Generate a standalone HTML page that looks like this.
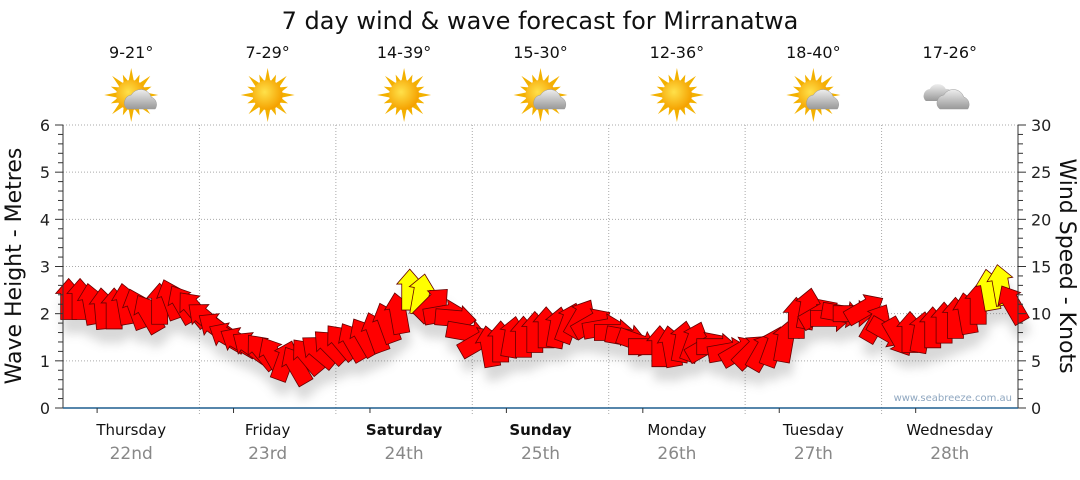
<!DOCTYPE html>
<html><head><meta charset="utf-8"><style>
body{margin:0;background:#fff;width:1080px;height:475px;overflow:hidden;font-family:"Liberation Sans",sans-serif}
svg text{font-family:"DejaVu Sans","Liberation Sans",sans-serif}
</style></head><body>
<svg id="c" width="1080" height="475">
<defs>
<radialGradient id="sunG" cx="0.4" cy="0.4" r="0.6"><stop offset="0" stop-color="#ffe14a"/><stop offset="1" stop-color="#f5a200"/></radialGradient>
<linearGradient id="cloudG" x1="0" y1="0" x2="0" y2="1"><stop offset="0" stop-color="#eee"/><stop offset="1" stop-color="#999"/></linearGradient>
<filter id="sh" x="-50%" y="-50%" width="200%" height="200%"><feGaussianBlur stdDeviation="5"/></filter>
</defs>
<text x="540" y="29" text-anchor="middle" font-size="24" fill="#111">7 day wind &amp; wave forecast for Mirranatwa</text>
<g id="grid"></g><g id="shadow" filter="url(#sh)" opacity="0.25"></g><g id="arrows"></g><g id="axes"></g><g id="hdr"></g>
</svg>
<script>
const days=["Thursday","Friday","Saturday","Sunday","Monday","Tuesday","Wednesday"];
const dates=["22nd","23rd","24th","25th","26th","27th","28th"];
const temps=["9-21°","7-29°","14-39°","15-30°","12-36°","18-40°","17-26°"];
const weather=["partly","sun","sun","partly","sun","partly","cloud"];
const waveTicks=[0,1,2,3,4,5,6];
const windTicks=[0,5,10,15,20,25,30];
const windSpeed=[11.5,11.5,11,10.5,10.5,11,10.5,10,11,11.5,11,10.5,
9.5,8.5,7.5,7,6.5,6,5.5,5,4.5,5.5,6,6.5,
7,7,7.5,8,9,10,12.5,12,11,10,9.5,8,
7,6.5,7,7.5,7.5,8,8.5,8.5,9,9.5,9,8.5,
8,7.5,7,6.5,6.5,6.5,7,7,6.5,6.5,6,6,
6,6,6.5,7,9.5,10.5,10,9.5,10,10,10.5,9,
8,7.5,8,8,8.5,9,9.5,10,11,12.5,13,11];
const windDir=[0,0,-10,-5,0,-10,-20,-30,0,-20,-30,-40,
-50,-55,-60,-60,-55,-40,-30,20,-30,-40,-50,-45,
-40,-30,-30,-20,-20,-10,0,10,45,80,95,100,
60,-10,0,10,0,0,0,10,20,30,60,80,
90,100,110,90,0,-10,10,20,60,90,80,60,
45,30,20,10,0,10,60,90,100,90,60,30,
120,150,0,10,0,0,0,-10,0,-10,-10,-30];
const NS="http://www.w3.org/2000/svg";
const X0=63,X1=1018,Y0=408,Y6=125;
const dayW=(X1-X0)/7;
const yWave=v=>Y0-(Y0-Y6)*v/6;
const yWind=v=>Y0-(Y0-Y6)*v/30;
const xT=i=>X0+(i+0.5)*(X1-X0)/windSpeed.length;
function el(t,a,p){const e=document.createElementNS(NS,t);for(const k in a)e.setAttribute(k,a[k]);p.appendChild(e);return e;}
const grid=document.getElementById('grid'),axes=document.getElementById('axes'),hdr=document.getElementById('hdr');
waveTicks.forEach(v=>{if(v>0){const g=el('line',{x1:X0,x2:X1,y1:yWave(v),y2:yWave(v),stroke:'#aaa','stroke-dasharray':'1,2'},grid);

}
const t=el('text',{x:50,y:yWave(v)+6,'text-anchor':'end','font-size':16,fill:'#222'},axes);t.textContent=v;

});
windTicks.forEach(v=>{const t=el('text',{x:1031,y:yWind(v)+6,'font-size':16,fill:'#222'},axes);t.textContent=v;

});
for(let k=0;k<=30;k++){const y=yWave(k*0.2);const L=k%5==0?8:5;
el('line',{x1:X0-L,x2:X0,y1:y,y2:y,stroke:'#333'},axes);el('line',{x1:X1,x2:X1+L,y1:y,y2:y,stroke:'#333'},axes);}
el('line',{x1:X0,x2:X0,y1:Y6,y2:Y0,stroke:'#333'},axes);el('line',{x1:X1,x2:X1,y1:Y6,y2:Y0,stroke:'#333'},axes);
el('line',{x1:X0,x2:X1,y1:Y0,y2:Y0,stroke:'#1f5f8f','stroke-width':1.5},axes);
for(let d=0;d<7;d++){const x=X0+d*dayW,cx=x+dayW/2;
if(d>0){const g=el('line',{x1:x,x2:x,y1:Y6,y2:Y0+8,stroke:'#aaa','stroke-dasharray':'1,2'},grid);

}
el('line',{x1:x+dayW/4,x2:x+dayW/4,y1:Y0,y2:Y0+5,stroke:'#333'},axes);
const bold=d==2||d==3;
const t=el('text',{x:cx,y:435,'text-anchor':'middle','font-size':15,fill:'#111','font-weight':bold?'bold':'normal'},axes);t.textContent=days[d];


const t2=el('text',{x:cx,y:459,'text-anchor':'middle','font-size':17,fill:'#888'},axes);t2.textContent=dates[d];


const t3=el('text',{x:cx,y:58,'text-anchor':'middle','font-size':16,fill:'#111'},hdr);t3.textContent=temps[d];


const g=el('g',{transform:`translate(${cx},95)`},hdr);


const w=weather[d];
if(w!='cloud'){for(let r=0;r<16;r++){const a=r*22.5;const L=r%2?22:27;el('polygon',{points:`-3,-12 3,-12 0,-${L}`,fill:'#f3b100',transform:`rotate(${a})`},g);}
el('circle',{r:15,fill:'url(#sunG)'},g);}
if(w=='partly'){el('path',{d:'M-4,14 a8,8 0 0 1 4,-14 a11,11 0 0 1 20,2 a8,8 0 0 1 4,12 z',fill:'url(#cloudG)',stroke:'#999','stroke-width':0.5},g);}
if(w=='cloud'){el('path',{d:'M-24,6 a7,7 0 0 1 4,-12 a9,9 0 0 1 16,0 a6,6 0 0 1 2,12 z',fill:'url(#cloudG)'},g);
el('path',{d:'M-10,14 a8,8 0 0 1 4,-14 a11,11 0 0 1 20,2 a8,8 0 0 1 4,12 z',fill:'url(#cloudG)',stroke:'#999','stroke-width':0.5},g);}
}
const lt=el('text',{x:0,y:0,'font-size':22,fill:'#111','text-anchor':'middle',transform:'translate(21,266) rotate(-90)'},axes);lt.textContent='Wave Height - Metres';

const rt=el('text',{x:0,y:0,'font-size':22,fill:'#111','text-anchor':'middle',transform:'translate(1060,266) rotate(90)'},axes);rt.textContent='Wind Speed - Knots';

const wm=el('text',{x:1012,y:401,'font-size':10,fill:'#8fa7c0','text-anchor':'end'},axes);wm.textContent='www.seabreeze.com.au';

const shp='-8,20 8,20 8,-6 13,-6 0,-21 -13,-6 -8,-6';
const ag=document.getElementById('arrows'),sg=document.getElementById('shadow');
windSpeed.forEach((v,i)=>{const x=xT(i),y=yWind(v);
el('polygon',{points:shp,fill:'#666',transform:`translate(${x+2},${y+14}) rotate(${windDir[i]})`},sg);
const p=el('polygon',{points:shp,fill:v>=12?'#ffff00':'#ff0000',stroke:'#600','stroke-width':0.8,transform:`translate(${x},${y}) rotate(${windDir[i]})`},ag);

});
</script>
</body></html>
